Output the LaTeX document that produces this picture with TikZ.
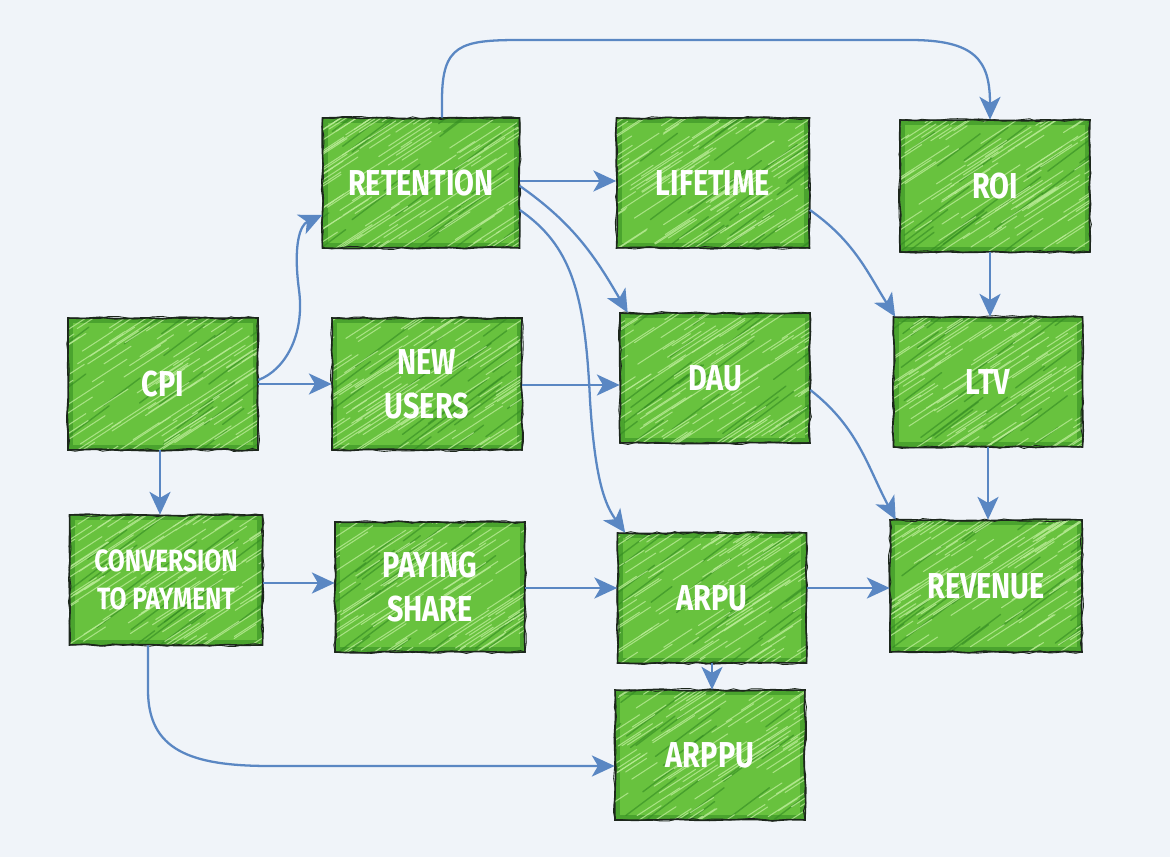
\documentclass[tikz,border=0pt]{standalone}
\usepackage{fontspec}
\newfontfamily\boxfont[FakeStretch=0.8]{Fira Sans}
\usetikzlibrary{arrows.meta,decorations.pathmorphing,calc}
\definecolor{bg}{RGB}{240,244,249}
\definecolor{boxgreen}{RGB}{104,194,62}
\definecolor{hatchlight}{RGB}{185,235,150}
\definecolor{boxdark}{RGB}{50,138,34}
\definecolor{outlinec}{RGB}{28,38,28}
\definecolor{arrowblue}{RGB}{90,135,195}
\tikzset{
  hatch/.style={path picture={
    \coordinate (pSW) at (path picture bounding box.south west);
    \draw[boxdark, line width=6pt, opacity=0.55] (path picture bounding box.south west) rectangle (path picture bounding box.north east);
    \foreach \k in {1,...,25}{
      \pgfmathsetmacro\rx{rnd*4.6-0.6}
      \pgfmathsetmacro\ry{rnd*3.0-0.4}
      \pgfmathsetmacro\rl{0.4+rnd*0.9}
      \pgfmathsetmacro\rh{0.75*\rl}
      \draw[boxdark, line width=0.8pt, opacity=0.6, line cap=round] ($(pSW)+(\rx cm,\ry cm)$) -- ++(\rl cm,\rh cm);
    }
    \foreach \k in {1,...,110}{
      \pgfmathsetmacro\rx{rnd*4.6-0.6}
      \pgfmathsetmacro\ry{rnd*3.0-0.4}
      \pgfmathsetmacro\rl{0.3+rnd*0.8}
      \pgfmathsetmacro\rh{0.65*\rl}
      \draw[hatchlight, line width=0.6pt, opacity=0.8, line cap=round] ($(pSW)+(\rx cm,\ry cm)$) -- ++(\rl cm,\rh cm);
    }
  }},
  gbox/.style={hatch, fill=boxgreen, minimum width=3.8cm, minimum height=2.6cm,
    text=white, align=center, inner sep=2pt,
    font=\boxfont\bfseries\fontsize{20.5}{25}\selectfont,
    postaction={draw=outlinec, line width=0.9pt, decorate,
      decoration={random steps, segment length=9pt, amplitude=0.5pt}},
    postaction={draw=outlinec, line width=0.5pt, decorate,
      decoration={random steps, segment length=5pt, amplitude=0.9pt}}},
  arr/.style={draw=arrowblue, line width=1.3pt,
    -{Stealth[length=13pt,width=12pt,inset=3.5pt]}}
}
\begin{document}
\begin{tikzpicture}[x=0.02cm,y=-0.02cm]
\pgfmathsetseed{7}
\fill[bg] (0,0) rectangle (1170,857);
\useasboundingbox (0,0) rectangle (1170,857);

% boxes
\node[gbox, minimum width=3.94cm] (retention) at (421,183) {RETENTION};
\node[gbox, minimum width=3.86cm] (lifetime) at (713,183) {LIFETIME};
\node[gbox, minimum height=2.64cm] (roi) at (995,186) {ROI};
\node[gbox, minimum height=2.64cm] (cpi) at (163,384) {CPI};
\node[gbox, minimum height=2.64cm] (newusers) at (427,384) {NEW\\USERS};
\node[gbox] (dau) at (715,378) {DAU};
\node[gbox, minimum width=3.78cm] (ltv) at (988,382) {LTV};
\node[gbox, minimum width=3.86cm, font=\boxfont\bfseries\fontsize{17.5}{22}\selectfont] (conv) at (166,580) {CONVERSION\\TO PAYMENT};
\node[gbox] (paying) at (430,587) {PAYING\\SHARE};
\node[gbox, minimum width=3.78cm] (arpu) at (712,598) {ARPU};
\node[gbox, minimum width=3.84cm, minimum height=2.64cm] (revenue) at (986,586) {REVENUE};
\node[gbox] (arppu) at (710,755) {ARPPU};

% connectors
\draw[arr] ($(cpi.east)+(0,-4)$) .. controls (285,370) and (305,335) .. (299,290)
   .. controls (293,245) and (300,225) .. ($(retention.west)+(0,32)$);
\draw[arr] (cpi.east) -- (cpi.east -| newusers.west);
\draw[arr] ($(cpi.south)+(-3,0)$) -- ($(cpi.south |- conv.north)+(-3,0)$);
\draw[arr] ($(conv.east)+(0,3)$) -- ($(conv.east -| paying.west)+(0,3)$);
\draw[arr] ($(conv.south)+(-18,0)$) -- (148,690) .. controls (148,750) and (190,766) .. (270,766)
   -- ($(arppu.west)+(0,11)$);
\draw[arr] ($(newusers.east)+(0,1)$) -- ($(newusers.east -| dau.west)+(0,1)$);
\draw[arr] ($(paying.east)+(0,1)$) -- ($(paying.east -| arpu.west)+(0,1)$);
\draw[arr] ($(retention.east)+(0,-2)$) -- ($(retention.east -| lifetime.west)+(0,-2)$);
\draw[arr] ($(retention.east)+(0,3)$) to[out=-35,in=120] ($(dau.north west)+(8,0)$);
\draw[arr] ($(retention.east)+(0,27)$) .. controls (570,245) and (585,290) .. (590,400)
   .. controls (595,480) and (605,505) .. ($(arpu.north west)+(8,0)$);
\draw[arr] ($(retention.north)+(21,0)$) -- (442,100) .. controls (442,45) and (460,40) .. (520,40)
   -- (910,40) .. controls (975,40) and (990,60) .. (roi.north -| 990,0);
\draw[arr] ($(lifetime.east)+(0,27)$) to[out=-35,in=122] ($(ltv.north west)+(2,0)$);
\draw[arr] (roi.south -| 990,0) -- (ltv.north -| 990,0);
\draw[arr] ($(dau.east)+(0,12)$) to[out=-38,in=118] ($(revenue.north west)+(6,0)$);
\draw[arr] (ltv.south) -- (ltv.south |- revenue.north);
\draw[arr] ($(arpu.east)+(0,-10)$) -- ($(arpu.east -| revenue.west)+(0,-10)$);
\draw[arr] (arpu.south) -- (arpu.south |- arppu.north);
\end{tikzpicture}
\end{document}
